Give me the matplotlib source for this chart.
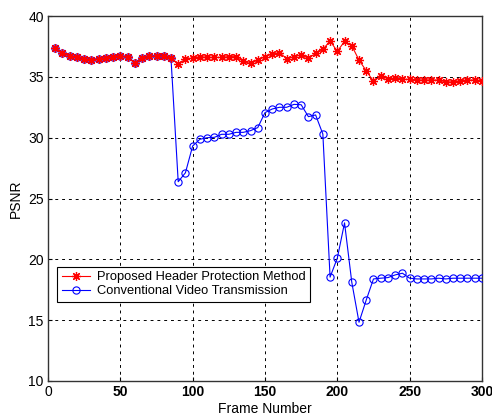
import matplotlib
matplotlib.use("Agg")
import matplotlib.pyplot as plt

frames = list(range(5, 301, 5))

proposed = [37.4, 36.93, 36.74, 36.6, 36.5, 36.38, 36.5, 36.55, 36.66, 36.74,
            36.6, 36.16, 36.55, 36.7, 36.7, 36.7, 36.55, 36.05, 36.47, 36.55,
            36.66, 36.6, 36.6, 36.6, 36.66, 36.66, 36.27, 36.1, 36.38, 36.66,
            36.88, 36.99, 36.5, 36.66, 36.82, 36.52, 36.93, 37.26, 37.95, 37.1,
            37.92, 37.56, 36.38, 35.5, 34.63, 35.07, 34.85, 34.9, 34.8, 34.8,
            34.74, 34.74, 34.74, 34.74, 34.58, 34.58, 34.7, 34.74, 34.74, 34.7]

conventional = [37.4, 36.93, 36.74, 36.6, 36.5, 36.38, 36.5, 36.55, 36.66, 36.74,
                36.6, 36.16, 36.55, 36.7, 36.7, 36.7, 36.55, 26.38, 27.12, 29.32,
                29.87, 30.0, 30.03, 30.28, 30.28, 30.44, 30.44, 30.58, 30.83, 32.06,
                32.36, 32.5, 32.5, 32.74, 32.71, 31.73, 31.87, 30.3, 18.54, 20.1,
                23.0, 18.12, 14.83, 16.66, 18.39, 18.45, 18.5, 18.72, 18.86, 18.45,
                18.39, 18.39, 18.39, 18.45, 18.39, 18.45, 18.45, 18.45, 18.45, 18.45]

labels = ["Proposed Header Protection Method", "Conventional Video Transmission"]
xticks = [0, 50, 100, 150, 200, 250, 300]
yticks = [10, 15, 20, 25, 30, 35, 40]

plt.rcParams['font.family'] = ['Liberation Sans', 'DejaVu Sans']

fig = plt.figure(figsize=(4.92, 4.19), dpi=100)
ax = fig.add_axes([0.0976, 0.0907, 0.882, 0.871])

h2, = ax.plot(frames, conventional, color='#0000ff', lw=0.8, marker='o',
              markersize=5.2, markerfacecolor='none', markeredgecolor='#0000ff',
              markeredgewidth=0.8, zorder=3)
h1, = ax.plot(frames, proposed, color='#ff0000', lw=0.8, marker=(8, 2, 0),
              markersize=6.5, markeredgecolor='#ff0000', markeredgewidth=0.9, zorder=4)

ax.set_xlim(0, 300)
ax.set_ylim(10, 40)
ax.set_xticks(xticks)
ax.set_yticks(yticks)
ax.set_xticklabels([str(t) for t in xticks])
for i, lab in enumerate(ax.get_xticklabels()):
    if i > 0:
        lab.set_fontweight('bold')
ax.tick_params(direction='in', length=3, labelsize=10, width=0.8, pad=3)
ax.grid(True, color='black', linestyle=(0, (3, 4)), linewidth=0.7)
for s in ax.spines.values():
    s.set_linewidth(1.0)
    s.set_color('#333333')

ax.set_xlabel("Frame Number", fontsize=10, labelpad=2)
ax.set_ylabel("PSNR", fontsize=10, labelpad=4)

leg = ax.legend([h1, h2], labels, loc='upper left',
                bbox_to_anchor=(0.021, 0.313), fontsize=9.3, frameon=True,
                fancybox=False, framealpha=1, edgecolor='black',
                handlelength=2.2, borderpad=0.35, labelspacing=0.15,
                handletextpad=0.5, borderaxespad=0)
leg.get_frame().set_linewidth(0.8)

fig.savefig("out.png", dpi=100)
